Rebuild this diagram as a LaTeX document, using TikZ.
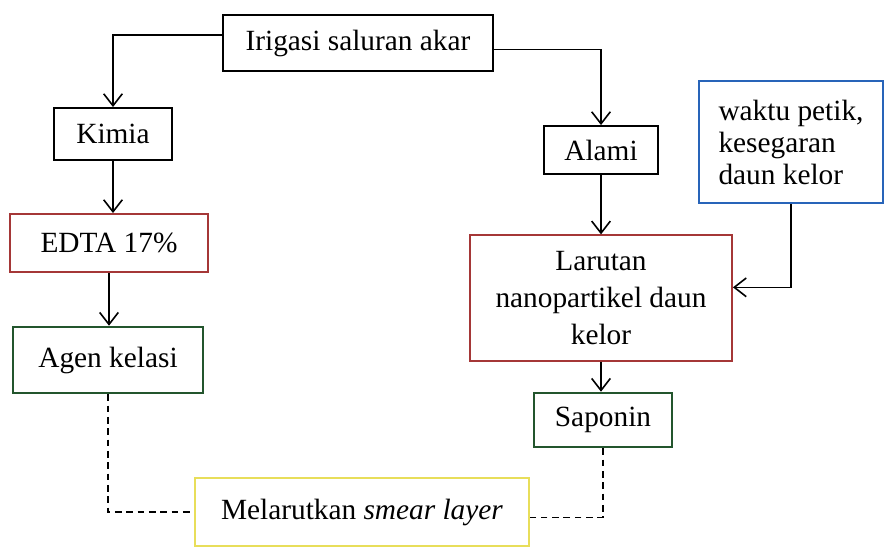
\documentclass[tikz,border=0pt]{standalone}
\usepackage{fontspec}
\setmainfont{Liberation Serif}
\usetikzlibrary{arrows.meta}

\definecolor{boxred}{RGB}{165,55,55}
\definecolor{boxgreen}{RGB}{35,85,45}
\definecolor{boxblue}{RGB}{40,100,185}
\definecolor{boxyellow}{RGB}{232,222,90}

\begin{document}
\begin{tikzpicture}[x=0.75pt,y=0.75pt,yscale=-1,xscale=1,
  box/.style={draw, line width=1.4pt, inner sep=0pt, font=\fontsize{22}{26}\selectfont},
  flow/.style={line width=1.2pt, -{Straight Barb[length=9pt,width=14pt,line width=1.2pt]}},
  dashline/.style={line width=1.2pt, dash pattern=on 5pt off 3.5pt}]
%set diagram size
\path (0,0) rectangle (884,548);

% Text Node
\node (irig) [box, minimum width=202.5pt, minimum height=42pt] at (358,43) {Irigasi saluran akar};
% Text Node
\node (kimia) [box, minimum width=89pt, minimum height=39pt] at (113,134) {Kimia};
% Text Node
\node (edta) [box, draw=boxred, minimum width=148pt, minimum height=43.5pt] at (109,243) {EDTA 17\%};
% Text Node
\node (agen) [box, draw=boxgreen, minimum width=142pt, minimum height=50pt] at (108,360) {Agen kelasi};
% Text Node
\node (alami) [box, minimum width=85pt, minimum height=36pt] at (601,150) {Alami};
% Text Node
\node (waktu) [box, draw=boxblue, minimum width=138pt, minimum height=92pt, align=left,
  font=\fontsize{22}{24}\selectfont] at (791,142) {waktu petik,\\kesegaran\\daun kelor};
% Text Node
\node (larutan) [box, draw=boxred, minimum width=196.5pt, minimum height=94pt, align=center,
  font=\fontsize{22}{28}\selectfont] at (601,298) {Larutan\\nanopartikel daun\\kelor};
% Text Node
\node (saponin) [box, draw=boxgreen, minimum width=104pt, minimum height=41pt] at (603,420) {Saponin};
% Text Node
\node (melarut) [box, draw=boxyellow, minimum width=250.5pt, minimum height=51pt] at (362,512) {Melarutkan \textit{smear layer}};

%Straight Lines
\draw [flow] ([yshift=-6pt]irig.west) -| (kimia.north);
\draw [flow] ([yshift=5pt]irig.east) -| (alami.north);
\draw [flow] (kimia.south) -- (kimia.south |- edta.north);
\draw [flow] (edta.south) -- (edta.south |- agen.north);
\draw [flow] (alami.south) -- (larutan.north);
\draw [flow] (waktu.south) |- ([yshift=-8pt]larutan.east);
\draw [flow] (larutan.south) -- (larutan.south |- saponin.north);

%Dashed Lines
\draw [dashline] (agen.south) |- (melarut.west);
\draw [dashline] (saponin.south) |- ([yshift=4pt]melarut.east);

\end{tikzpicture}
\end{document}
